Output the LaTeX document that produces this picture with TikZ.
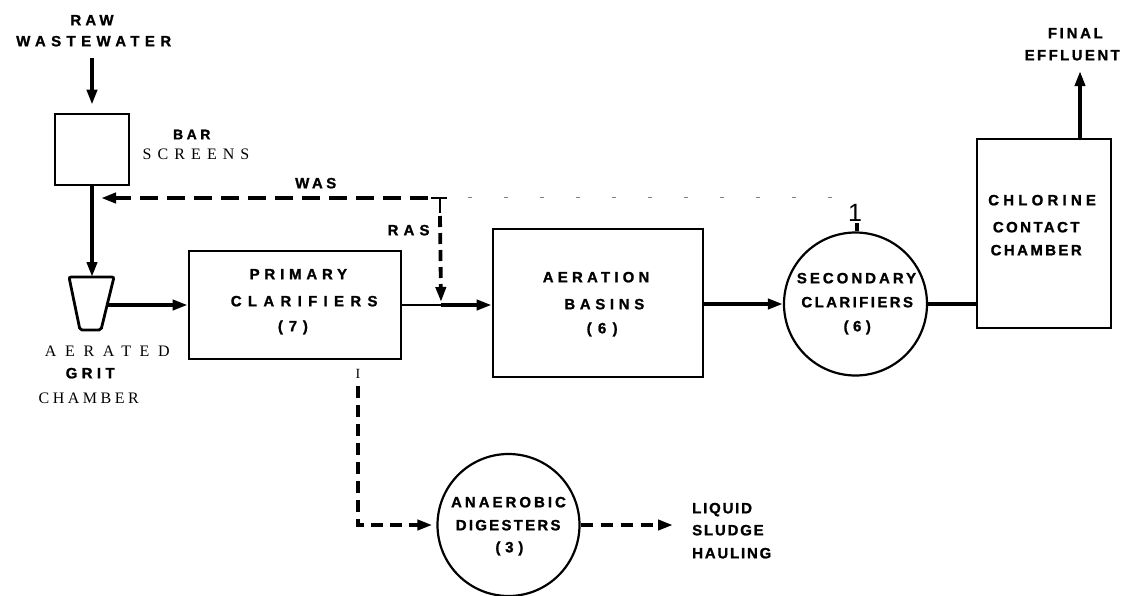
\documentclass[tikz,border=0pt]{standalone}
\usepackage{fontspec}
\setmainfont{Liberation Serif}
\setsansfont{Liberation Sans}
\usetikzlibrary{arrows.meta}
\newcommand\lbltxt[3]{{\fontsize{#1}{#1}\selectfont\addfontfeature{LetterSpace=#2}#3\kern-\dimexpr #2\fontdimen6\font/100\relax}}
\newcommand\heavy{\addfontfeature{FakeBold=1.2}}
\tikzset{
  box/.style={draw, line width=2.6pt, inner sep=0pt},
  flow/.style={line width=3.8pt, -{Triangle[length=15pt,width=10pt]}},
  plain/.style={line width=3.8pt},
  dflow/.style={line width=3.8pt, dash pattern=on 18pt off 9pt, -{Triangle[length=15pt,width=10pt]}},
  sl/.style={font=\sffamily\bfseries\heavy, inner sep=0pt, text height=10.7pt, text depth=0pt},
  sr/.style={font=\rmfamily, inner sep=0pt, text height=10.6pt, text depth=0pt},
}
\begin{document}
\begin{tikzpicture}[x=1pt,y=-1pt]
\useasboundingbox (0,0) rectangle (1122,595);
% boxes
\node[box, minimum width=74pt, minimum height=71pt] (bar) at (92,149.5) {};
\node[box, minimum width=212pt, minimum height=108pt] (prim) at (295,305) {};
\node[box, minimum width=210pt, minimum height=148pt] (aer) at (598,303) {};
\node[box, circle, line width=2.2pt, minimum size=143pt] (sec) at (855.5,304) {};
\node[box, minimum width=134pt, minimum height=189pt] (chl) at (1044,233.5) {};
\node[box, circle, line width=2.2pt, minimum size=142pt] (dig) at (508.5,525) {};
% grit chamber
\draw[line width=2.8pt, rounded corners=2pt] (69,277) -- (80,330) -- (101,330) -- (114,277) -- cycle;
\coordinate (gritTop) at (92,277);
\coordinate (gritR) at (108,305);
% coordinates
\coordinate (rawTop) at (92,58);
\coordinate (ras) at (441,305);
\coordinate (Tjoin) at (440,198);
\coordinate (wasEnd) at (101,198);
\coordinate (dotEnd) at (840,197);
\coordinate (sl1) at (358,386);
\coordinate (haul) at (673,525);
\coordinate (eff) at (1080,71);
% connectors
\draw[flow] (rawTop) -- ([yshift=8pt]bar.north);
\draw[flow] (bar.south) -- (gritTop);
\draw[flow] (gritR) -- (prim.west);
\draw[line width=2.2pt] (prim.east) -- (ras);
\draw[flow] (ras) -- (ras -| aer.west);
\draw[flow] (aer.east |- sec.west) -- (sec.west);
\draw[plain] (sec.east) -- (sec.east -| chl.west);
\draw[flow] (chl.north -| eff) -- (eff);
\draw[dflow] ([xshift=-12pt]Tjoin) -- (wasEnd);
\draw[line width=1.8pt] ([xshift=-9pt]Tjoin) -- ([xshift=7pt]Tjoin);
\draw[line width=1.8pt] (Tjoin) -- ([yshift=-15pt]Tjoin);
\draw[dflow, dash pattern=on 11pt off 6pt] ([yshift=-18pt]Tjoin) -- ([yshift=3pt]ras);
\draw[gray, line width=1pt, dash pattern=on 4pt off 32pt] ([xshift=28pt,yshift=1pt]Tjoin) -- (dotEnd);
\draw[dflow, dash pattern=on 12pt off 7pt] (sl1) |- ([xshift=-4pt]dig.west);
\draw[dflow, dash pattern=on 12pt off 8pt] (dig.east) -- (haul);
\draw[line width=3.8pt] ([xshift=1.5pt]sec.north) -- ++(0,-8);
% labels
\node[sl] (tRaw) at (90,20) {\lbltxt{15}{27}{RAW}};
\node[sl] (tWW) at (91,41) {\lbltxt{15}{36}{WASTEWATER}};
\node[sl] (tBar) at (190,134) {\lbltxt{14}{25}{BAR}};
\node[sr] (tScr) at (193,154) {\lbltxt{16}{38}{SCREENS}};
\node[sl] (tWas) at (314,183) {\lbltxt{15}{23}{WAS}};
\node[sl] (tRas) at (406,230) {\lbltxt{15}{34}{RAS}};
\node[sr] (tAer) at (103,351) {\lbltxt{16}{54}{AERATED}};
\node[sl] (tGrit) at (88,373) {\lbltxt{15}{29}{GRIT}};
\node[sr] (tCh) at (87,398) {\lbltxt{16}{22}{CHAMBER}};
\node[sl] (tP1) at (296,274) {\lbltxt{15}{32}{PRIMARY}};
\node[sl] (tP2) at (301,301) {\lbltxt{15}{42}{CLARIFIERS}};
\node[sl] (tP3) at (290,326) {\lbltxt{15}{39}{(7)}};
\node[sl] (tA1) at (594,277) {\lbltxt{15}{28}{AERATION}};
\node[sl] (tA2) at (602,304) {\lbltxt{15}{31}{BASINS}};
\node[sl] (tA3) at (599,328) {\lbltxt{15}{42}{(6)}};
\node[font=\sffamily, inner sep=0pt, text height=18pt, text depth=0pt] (tOne) at (855,212) {\fontsize{25}{25}\selectfont 1};
\node[sl] (tS1) at (855,278) {\lbltxt{15}{20}{SECONDARY}};
\node[sl] (tS2) at (856,302) {\lbltxt{15}{16}{CLARIFIERS}};
\node[sl] (tS3) at (855,326) {\lbltxt{15}{30}{(6)}};
\node[sl] (tC1) at (1040,200) {\lbltxt{15}{28}{CHLORINE}};
\node[sl] (tC2) at (1035,227) {\lbltxt{15}{16}{CONTACT}};
\node[sl] (tC3) at (1035,250) {\lbltxt{15}{16}{CHAMBER}};
\node[sl] (tF1) at (1074,33) {\lbltxt{15}{18}{FINAL}};
\node[sl] (tF2) at (1071,55) {\lbltxt{15}{16}{EFFLUENT}};
\node[sr, text height=9.5pt] (tI) at (358,374) {\fontsize{14}{14}\selectfont I};
\node[sl] (tD1) at (507,502) {\lbltxt{15}{20}{ANAEROBIC}};
\node[sl] (tD2) at (507,525) {\lbltxt{15}{15}{DIGESTERS}};
\node[sl] (tD3) at (507,547) {\lbltxt{15}{32}{(3)}};
\node[sl, anchor=west] (tL1) at (692,508) {\lbltxt{15}{12}{LIQUID}};
\node[sl, anchor=west] (tL2) at (692,530) {\lbltxt{15}{12}{SLUDGE}};
\node[sl, anchor=west] (tL3) at (692,553) {\lbltxt{15}{12}{HAULING}};
\end{tikzpicture}
\end{document}
